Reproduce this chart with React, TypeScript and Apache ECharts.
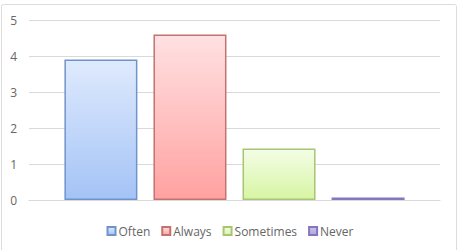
import React, { useEffect, useRef } from "react";
import * as echarts from "echarts";

const categories = [""];
const seriesNames = ["Often", "Always", "Sometimes", "Never"];
const seriesValues = [3.9, 4.6, 1.43, 0.07];
const yTicks = { min: 0, max: 5, interval: 1 };

const palette = [
  { top: "#dfeafd", bottom: "#a4c3f6", border: "#7193cc" },
  { top: "#ffe1e2", bottom: "#ffa2a1", border: "#c27371" },
  { top: "#f4fde6", bottom: "#d7f5a3", border: "#a7c574" },
  { top: "#cdc3ec", bottom: "#b4a6de", border: "#8577bd" },
];

export default function App() {
  const ref = useRef<HTMLDivElement>(null);
  useEffect(() => {
    if (!ref.current) return;
    const chart = echarts.init(ref.current, undefined, { renderer: "svg" });
    const font = "'Open Sans', 'Liberation Sans', sans-serif";
    chart.setOption({
      animation: false,
      backgroundColor: "#ffffff",
      textStyle: { fontFamily: font },
      graphic: [
        {
          type: "rect",
          shape: { x: 1.5, y: 4.5, width: 455, height: 250, r: 2 },
          style: { fill: "none", stroke: "#dcdcdc", lineWidth: 1 },
          silent: true,
          z: -1,
        },
      ],
      grid: { left: 29, right: 20, top: 20, bottom: 50, containLabel: false },
      legend: {
        bottom: 8,
        left: "center",
        itemWidth: 8,
        itemHeight: 8,
        itemGap: 11,
        icon: "rect",
        textStyle: { fontSize: 12, color: "#666666", fontFamily: font, padding: [0, 0, 0, -2] },
        data: seriesNames,
      },
      xAxis: {
        type: "category",
        data: categories,
        axisLine: { show: true, lineStyle: { color: "#d9d9d9", width: 1 } },
        axisTick: { show: false },
        axisLabel: { show: false },
      },
      yAxis: {
        type: "value",
        min: yTicks.min,
        max: yTicks.max,
        interval: yTicks.interval,
        axisLine: { show: false },
        axisTick: { show: false },
        axisLabel: { color: "#666666", fontSize: 12, margin: 12, fontFamily: font },
        splitLine: { lineStyle: { color: "#d9d9d9", width: 1 } },
      },
      series: seriesNames.map((name, i) => ({
        name,
        type: "bar",
        data: [seriesValues[i]],
        barWidth: 73,
        barGap: "22%",
        itemStyle: {
          color: new echarts.graphic.LinearGradient(0, 0, 0, 1, [
            { offset: 0, color: palette[i].top },
            { offset: 1, color: palette[i].bottom },
          ]),
          borderColor: palette[i].border,
          borderWidth: 1.5,
        },
      })),
    });
    return () => chart.dispose();
  }, []);
  return (
    <div
      ref={ref}
      style={{ position: "fixed", left: 0, top: 0, width: 460, height: 250 }}
    />
  );
}
